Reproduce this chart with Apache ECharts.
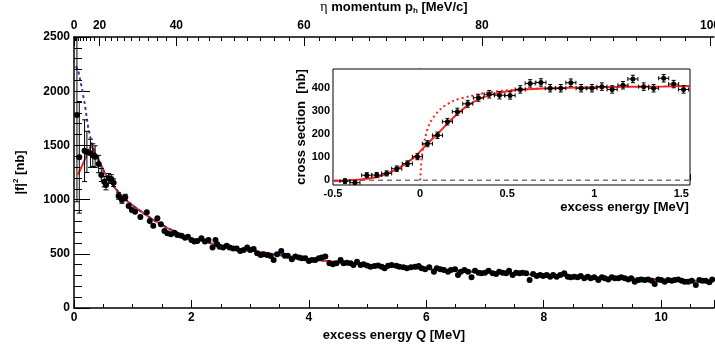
<!DOCTYPE html>
<html>
<head>
<meta charset="utf-8">
<script src="https://cdn.jsdelivr.net/npm/echarts@6/dist/echarts.min.js"></script>
<style>
  html, body { margin: 0; padding: 0; background: #fff; }
  #chart { width: 715px; height: 345px; }
</style>
</head>
<body>
<div id="chart"></div>
<script>
// main panel: |f|^2 vs excess energy Q
const mainQ = [0.05, 0.09, 0.18, 0.22, 0.28, 0.32, 0.36, 0.42, 0.465, 0.515, 0.545, 0.59, 0.635, 0.675, 0.76, 0.816, 0.873,
  0.93, 0.986, 1.04, 1.13, 1.24, 1.29, 1.35, 1.42, 1.48, 1.54, 1.59, 1.65, 1.71, 1.76, 1.83, 1.89, 1.94,
  2.00, 2.05, 2.10, 2.17, 2.23, 2.29, 2.36, 2.41, 2.44, 2.48, 2.54, 2.60, 2.65, 2.71, 2.77, 2.83, 2.89, 2.95,
  3.00, 3.06, 3.12, 3.18, 3.23, 3.29, 3.35, 3.40, 3.46, 3.53, 3.59, 3.64, 3.71, 3.77, 3.83, 3.88, 3.94,
  4.00, 4.05, 4.11, 4.17, 4.22, 4.28, 4.35, 4.41, 4.47, 4.54, 4.59, 4.65, 4.71, 4.76, 4.82, 4.88, 4.93, 4.99,
  5.05, 5.12, 5.18, 5.24, 5.29, 5.35, 5.41, 5.49, 5.54, 5.61, 5.67, 5.74, 5.81, 5.87, 5.92, 5.98,
  6.05, 6.13, 6.18, 6.24, 6.30, 6.37, 6.42, 6.49, 6.54, 6.59, 6.65, 6.71, 6.77, 6.83, 6.89, 6.94,
  7.00, 7.06, 7.13, 7.19, 7.24, 7.30, 7.36, 7.41, 7.47, 7.53, 7.59, 7.64, 7.70, 7.76, 7.82, 7.88, 7.94, 7.99,
  8.05, 8.11, 8.16, 8.22, 8.28, 8.35, 8.41, 8.46, 8.52, 8.58, 8.63, 8.69, 8.75, 8.80, 8.86, 8.93, 8.99,
  9.04, 9.10, 9.16, 9.21, 9.27, 9.32, 9.38, 9.44, 9.49, 9.55, 9.61, 9.66, 9.72, 9.78, 9.84, 9.89, 9.95,
  10.00, 10.06, 10.12, 10.18, 10.23, 10.29, 10.35, 10.40, 10.46, 10.52, 10.59, 10.65, 10.70, 10.76, 10.82, 10.87];
const mainF2 = [1780, 1390, 1451, 1440, 1427, 1410, 1396, 1328, 1227, 1165, 1135, 1196, 1190, 1156, 1033, 996, 1021,
  941, 904, 889, 840, 883, 802, 759, 827, 772, 710, 689, 680, 695, 673, 667, 649, 658,
  627, 613, 618, 643, 613, 627, 557, 627, 587, 566, 557, 575, 557, 550, 550, 526, 535, 557,
  535, 544, 504, 489, 495, 489, 480, 443, 495, 526, 483, 483, 449, 474, 465, 458, 458,
  434, 443, 443, 458, 465, 474, 412, 403, 412, 443, 412, 418, 412, 397, 427, 397, 403, 391,
  381, 387, 391, 380, 366, 390, 397, 390, 381, 375, 366, 375, 381, 387, 366, 357,
  375, 335, 366, 357, 351, 335, 351, 357, 304, 335, 351, 335, 283, 344, 326, 320,
  326, 344, 320, 314, 335, 326, 320, 344, 304, 326, 320, 326, 320, 258, 314, 295, 304, 295,
  304, 289, 304, 289, 304, 320, 289, 283, 289, 283, 295, 274, 289, 274, 283, 258, 283,
  274, 264, 283, 274, 274, 283, 274, 264, 274, 243, 258, 264, 258, 264, 252, 221, 264,
  258, 243, 258, 252, 258, 264, 252, 243, 243, 252, 212, 258, 252, 252, 237, 264];
// statistical errors, only the low-Q points have visible bars
const mainErr = [800, 515, 285, 190, 130, 105, 100, 80, 60, 48, 45, 45, 40, 35, 30, 30, 28];

// fit curves in the main panel
const redQ = [0.07, 0.29, 0.42, 0.53, 0.70, 0.87, 1.10, 1.33, 1.60, 2.0, 2.5, 3.0, 3.5, 4.0, 4.5, 5.0, 5.5, 6.0, 6.5, 7.0, 7.5, 8.0, 8.5, 9.0, 9.5, 10.0, 10.5, 10.9];
const redF2 = [1230, 1500, 1365, 1240, 1105, 1000, 905, 820, 735, 640, 575, 528, 488, 452, 423, 398, 378, 360, 344, 330, 316, 303, 292, 281, 271, 262, 253, 247];
const blueQ = [0.03, 0.07, 0.13, 0.19, 0.24, 0.30, 0.40, 0.50, 0.61, 0.80, 1.0, 1.33, 1.60, 2.0, 2.5, 3.0, 3.5, 4.0, 4.5, 5.0, 5.5, 6.0, 6.5, 7.0, 7.5, 8.0, 8.5, 9.0, 9.5, 10.0, 10.5, 10.9];
const blueF2 = [2230, 2196, 2040, 1860, 1672, 1520, 1375, 1265, 1165, 1040, 945, 820, 735, 640, 575, 528, 488, 452, 423, 398, 378, 360, 344, 330, 316, 303, 292, 281, 271, 262, 253, 247];

// top axis: eta momentum tick labels
const pLabels = [0, 20, 40, 60, 80, 100];
const pMinor = [0, 2, 4, 6, 8, 10, 12, 14, 16, 18, 20, 22, 24, 26, 28, 30, 32, 34, 36, 38, 40, 42, 44, 46, 48, 50,
  52, 54, 56, 58, 60, 62, 64, 66, 68, 70, 72, 74, 76, 78, 80, 82, 84, 86, 88, 90, 92, 94, 96, 98, 100];

// inset: cross section near threshold
const insetX = [-0.431, -0.374, -0.306, -0.249, -0.192, -0.134, -0.073, -0.015, 0.042, 0.100, 0.157, 0.214, 0.274, 0.335, 0.397, 0.456, 0.517,
  0.575, 0.632, 0.694, 0.747, 0.808, 0.866, 0.925, 0.987, 1.044, 1.103, 1.165, 1.222, 1.284, 1.341, 1.399, 1.456, 1.513];
const insetY = [-3, -10, 22, 23, 30, 50, 72, 102, 158, 194, 253, 296, 330, 356, 371, 367, 366,
  392, 418, 422, 397, 397, 421, 397, 397, 404, 392, 410, 437, 404, 397, 440, 415, 392];
const insetYErr = [10, 10, 11, 11, 11, 12, 12, 13, 13, 14, 14, 15, 15, 15, 16, 16, 16,
  16, 16, 16, 16, 16, 16, 16, 16, 16, 16, 16, 16, 16, 16, 16, 16, 16];
const insetXErr = 0.029;

const fitX = [-0.5, -0.345, -0.23, -0.134, -0.038, 0.038, 0.115, 0.19, 0.268, 0.345, 0.44, 0.556, 0.7, 0.85, 1.0, 1.2, 1.4, 1.55];
const fitY = [-3, 4, 18, 48, 97, 155, 212, 270, 320, 352, 375, 389, 396, 399, 401, 403, 405, 407];
const stepX = [0.0, 0.005, 0.01, 0.029, 0.057, 0.115, 0.19, 0.287, 0.4, 0.5, 0.6, 0.7];
const stepY = [0, 50, 102, 184, 248, 306, 342, 363, 380, 388, 392, 396];

const M_ETA = 547.862, M_HE = 2808.39;
function pToQ(p) {
  return Math.sqrt(p * p + M_ETA * M_ETA) - M_ETA + Math.sqrt(p * p + M_HE * M_HE) - M_HE;
}

const font = 'Liberation Sans';
const lbl = { color: '#000', fontFamily: font, fontWeight: 'bold', fontSize: 12 };
const ttl = { color: '#000', fontFamily: font, fontWeight: 'bold', fontSize: 13 };

function errorBars(capPx) {
  return function (params, api) {
    const x = api.value(0), y = api.value(1), ex = api.value(2), ey = api.value(3);
    const style = { stroke: '#000', lineWidth: 1 };
    const kids = [];
    if (ey > 0) {
      const lo = api.coord([x, y - ey]), hi = api.coord([x, y + ey]);
      kids.push({ type: 'line', shape: { x1: lo[0], y1: lo[1], x2: hi[0], y2: hi[1] }, style });
      kids.push({ type: 'line', shape: { x1: lo[0] - capPx, y1: lo[1], x2: lo[0] + capPx, y2: lo[1] }, style });
      kids.push({ type: 'line', shape: { x1: hi[0] - capPx, y1: hi[1], x2: hi[0] + capPx, y2: hi[1] }, style });
    }
    if (ex > 0) {
      const l = api.coord([x - ex, y]), r = api.coord([x + ex, y]);
      kids.push({ type: 'line', shape: { x1: l[0], y1: l[1], x2: r[0], y2: r[1] }, style });
      kids.push({ type: 'line', shape: { x1: l[0], y1: l[1] - capPx, x2: l[0], y2: l[1] + capPx }, style });
      kids.push({ type: 'line', shape: { x1: r[0], y1: r[1] - capPx, x2: r[0], y2: r[1] + capPx }, style });
    }
    return { type: 'group', children: kids };
  };
}

const mainPts = mainQ.map((q, i) => [q, mainF2[i]]);
const mainErrData = mainErr.map((e, i) => [mainQ[i], mainF2[i], 0, e]);
const insetPts = insetX.map((x, i) => [x, insetY[i]]);
const insetErrData = insetX.map((x, i) => [x, insetY[i], insetXErr, insetYErr[i]]);

const chart = echarts.init(document.getElementById('chart'));
chart.setOption({
  animation: false,
  backgroundColor: '#fff',
  grid: [
    { left: 74, right: 1, top: 37, bottom: 37, outerBoundsMode: 'none', containLabel: false },
    { left: 333, right: 25, top: 69, bottom: 160, outerBoundsMode: 'none', containLabel: false,
      show: true, backgroundColor: '#fff', borderColor: '#000', borderWidth: 1, z: 5 }
  ],
  xAxis: [
    {
      gridIndex: 0, type: 'value', min: 0, max: 10.9, interval: 2,
      name: 'excess energy Q [MeV]', nameLocation: 'middle', nameGap: 17, nameTextStyle: ttl,
      axisLine: { lineStyle: { color: '#000', width: 1.5 } },
      axisTick: { inside: true, length: 8, lineStyle: { color: '#000' } },
      minorTick: { show: true, splitNumber: 4, length: 4, lineStyle: { color: '#000' } },
      axisLabel: Object.assign({ margin: 4, formatter: v => (Math.abs(v / 2 - Math.round(v / 2)) < 1e-9 ? String(v) : '') }, lbl),
      splitLine: { show: false }
    },
    {
      gridIndex: 0, type: 'value', position: 'top', min: 0, max: 10.9,
      name: '{g|η}{n| momentum p}{s|h}{n| [MeV/c]}', nameLocation: 'middle', nameGap: 21,
      nameTextStyle: {
        rich: {
          g: { fontFamily: 'Liberation Serif', fontSize: 14, color: '#000', lineHeight: 16 },
          n: Object.assign({ lineHeight: 16 }, ttl),
          s: { fontFamily: font, fontWeight: 'bold', fontSize: 8, color: '#000', lineHeight: 9, verticalAlign: 'bottom' }
        }
      },
      axisLine: { lineStyle: { color: '#000', width: 1.5 } },
      axisTick: { inside: true, length: 4, customValues: pMinor.map(pToQ), lineStyle: { color: '#000' } },
      axisLabel: Object.assign({
        margin: 5,
        customValues: pLabels.map(pToQ),
        formatter: v => { const p = pLabels.find(pp => Math.abs(pToQ(pp) - v) < 1e-6); return p === undefined ? '' : String(p); }
      }, lbl),
      splitLine: { show: false }
    },
    {
      gridIndex: 0, type: 'value', position: 'top', min: 0, max: 10.9,
      axisLine: { show: false },
      axisTick: { inside: true, length: 9, customValues: pLabels.map(pToQ), lineStyle: { color: '#000' } },
      axisLabel: { show: false },
      splitLine: { show: false }
    },
    {
      gridIndex: 1, type: 'value', min: -0.5, max: 1.55, interval: 0.5,
      name: 'excess energy [MeV]', nameLocation: 'middle', nameGap: 16,
      nameTextStyle: Object.assign({ padding: [0, 0, 0, 226] }, ttl),
      axisLine: { lineStyle: { color: '#000' } },
      axisTick: { inside: true, length: 6, lineStyle: { color: '#000' } },
      minorTick: { show: true, splitNumber: 5, length: 3, lineStyle: { color: '#000' } },
      axisLabel: Object.assign({ margin: 3, formatter: v => (Math.abs(v * 2 - Math.round(v * 2)) < 1e-9 ? String(v) : '') }, lbl, { fontSize: 11 }),
      splitLine: { show: false }
    }
  ],
  yAxis: [
    {
      gridIndex: 0, type: 'value', min: 0, max: 2500, interval: 500,
      name: '{n||f|}{p|2}{n| [nb]}', nameLocation: 'middle', nameGap: 46,
      nameTextStyle: {
        rich: {
          n: Object.assign({ lineHeight: 16 }, ttl),
          p: { fontFamily: font, fontWeight: 'bold', fontSize: 8, color: '#000', lineHeight: 9, verticalAlign: 'top' }
        }
      },
      axisLine: { lineStyle: { color: '#000', width: 1.5 } },
      axisTick: { inside: true, length: 16, lineStyle: { color: '#000' } },
      minorTick: { show: true, splitNumber: 5, length: 8, lineStyle: { color: '#000' } },
      axisLabel: Object.assign({ margin: 4, formatter: v => String(v) }, lbl),
      splitLine: { show: false }
    },
    {
      gridIndex: 1, type: 'value', min: -20, max: 480,
      name: 'cross section  [nb]', nameLocation: 'middle', nameGap: 24, nameTextStyle: ttl,
      axisLine: { lineStyle: { color: '#000' } },
      axisTick: { inside: true, length: 12, customValues: [0, 100, 200, 300, 400], lineStyle: { color: '#000' } },
      axisLabel: Object.assign({ margin: 3, customValues: [0, 100, 200, 300, 400], formatter: v => String(v) }, lbl, { fontSize: 11 }),
      splitLine: { show: false }
    },
    {
      gridIndex: 1, type: 'value', min: -20, max: 480,
      axisLine: { show: false },
      axisTick: { inside: true, length: 6, customValues: [20, 40, 60, 80, 120, 140, 160, 180, 220, 240, 260, 280, 320, 340, 360, 380, 420, 440, 460], lineStyle: { color: '#000' } },
      axisLabel: { show: false },
      splitLine: { show: false }
    }
  ],
  series: [
    {
      type: 'line', xAxisIndex: 0, yAxisIndex: 0, data: redQ.map((q, i) => [q, redF2[i]]),
      symbol: 'none', lineStyle: { color: '#f22', width: 2 }, z: 2
    },
    {
      type: 'line', xAxisIndex: 0, yAxisIndex: 0, data: blueQ.map((q, i) => [q, blueF2[i]]),
      symbol: 'none', lineStyle: { color: '#3b3b9e', width: 2, type: [3, 3] }, z: 3
    },
    {
      type: 'custom', xAxisIndex: 0, yAxisIndex: 0, data: mainErrData, clip: true,
      renderItem: errorBars(2.5), encode: { x: 0, y: 1 }, z: 4
    },
    {
      type: 'scatter', xAxisIndex: 0, yAxisIndex: 0, data: mainPts,
      symbolSize: 6, itemStyle: { color: '#000', opacity: 1 }, z: 4
    },
    {
      type: 'line', xAxisIndex: 3, yAxisIndex: 1, data: [[-0.5, 0], [1.55, 0]],
      symbol: 'none', lineStyle: { color: '#777', width: 1.5, type: [5, 4] }, z: 6
    },
    {
      type: 'line', xAxisIndex: 3, yAxisIndex: 1, data: stepX.map((x, i) => [x, stepY[i]]), smooth: 0.3,
      symbol: 'none', lineStyle: { color: '#f22', width: 2, type: [2, 3] }, z: 6
    },
    {
      type: 'line', xAxisIndex: 3, yAxisIndex: 1, data: fitX.map((x, i) => [x, fitY[i]]), smooth: 0.3,
      symbol: 'none', lineStyle: { color: '#f22', width: 2 }, z: 6
    },
    {
      type: 'custom', xAxisIndex: 3, yAxisIndex: 1, data: insetErrData, clip: true,
      renderItem: errorBars(2), encode: { x: 0, y: 1 }, z: 7
    },
    {
      type: 'scatter', xAxisIndex: 3, yAxisIndex: 1, data: insetPts,
      symbolSize: 5, itemStyle: { color: '#000', opacity: 1 }, z: 7
    }
  ]
});
</script>
</body>
</html>
